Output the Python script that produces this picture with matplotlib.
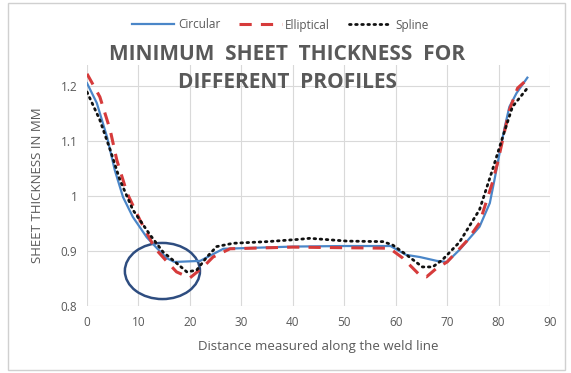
import matplotlib
matplotlib.use("Agg")
import matplotlib.pyplot as plt
from matplotlib.patches import Ellipse, Rectangle

circ_x = [0, 1.9, 3.9, 5.4, 7.0, 8.9, 11.6, 13.6, 15.5, 17, 22, 26.5, 30, 40, 50, 59, 62, 64.7, 68, 70, 72.4, 76.3, 78.3, 79.2, 80.2, 81.2, 82.1, 83.5, 85.6]
circ_y = [1.205, 1.169, 1.107, 1.047, 0.998, 0.962, 0.925, 0.905, 0.887, 0.880, 0.882, 0.904, 0.905, 0.908, 0.909, 0.909, 0.893, 0.889, 0.882, 0.880, 0.902, 0.944, 0.987, 1.029, 1.078, 1.125, 1.162, 1.187, 1.215]

ell_x = [0, 2.5, 4.5, 5.8, 7.8, 10.3, 13.2, 15.8, 17.4, 20, 22.6, 24.5, 27.8, 40, 58.8, 61.4, 64.7, 66, 68, 70, 73.8, 76.3, 78.8, 79.8, 80.8, 82.1, 83.7, 85]
ell_y = [1.222, 1.180, 1.120, 1.065, 1.005, 0.956, 0.905, 0.878, 0.862, 0.851, 0.871, 0.889, 0.904, 0.907, 0.905, 0.887, 0.856, 0.853, 0.869, 0.880, 0.918, 0.951, 1.024, 1.060, 1.102, 1.156, 1.196, 1.207]

spl_x = [0, 2.5, 4.5, 6.4, 8.9, 12.2, 14.8, 17.4, 19.4, 21.3, 23.3, 25.2, 28.4, 35, 41, 43.3, 50.5, 57.5, 59.4, 62.1, 65.2, 67.2, 69.1, 72.4, 76.3, 78.8, 80.8, 82.7, 85.6]
spl_y = [1.189, 1.138, 1.084, 1.029, 0.975, 0.930, 0.898, 0.878, 0.862, 0.865, 0.889, 0.908, 0.914, 0.917, 0.921, 0.923, 0.918, 0.917, 0.911, 0.893, 0.871, 0.871, 0.884, 0.916, 0.975, 1.047, 1.107, 1.162, 1.196]

xticks = [0, 10, 20, 30, 40, 50, 60, 70, 80, 90]
yticks = [0.8, 0.9, 1.0, 1.1, 1.2]
ytick_labels = ["0.8", "0.9", "1", "1.1", "1.2"]

plt.rcParams['font.family'] = ['Open Sans', 'DejaVu Sans']
fig = plt.figure(figsize=(5.71, 3.73), dpi=100)
fig.patches.append(Rectangle((8/571, 3/373), 557/571, 367/373, transform=fig.transFigure,
                             fill=False, edgecolor='#d0d0d0', lw=1))
ax = fig.add_axes([87/571, 1-306/373, (550-87)/571, (306-65)/373])
ax.set_xlim(0, 90)
ax.set_ylim(0.8, 1.238)
ax.set_xticks(xticks)
ax.set_yticks(yticks)
ax.set_yticklabels(ytick_labels)
ax.grid(True, color='#d9d9d9', lw=0.8)
ax.set_axisbelow(True)
for s in ax.spines.values():
    s.set_visible(False)
ax.tick_params(length=0, labelsize=8.5, labelcolor='#595959', pad=7)

ax.plot(circ_x, circ_y, color='#4a86c8', lw=1.6, label='Circular')
ax.plot(ell_x, ell_y, color='#d63b3b', lw=2.2, ls=(0, (4, 3)), label='Elliptical')
ax.plot(spl_x, spl_y, color='#111111', lw=2.0, ls=(0, (0.6, 1.6)), dash_capstyle='round', label='Spline')

ax.add_patch(Ellipse((14.66, 0.8636), 14.6, 0.102, fill=False, edgecolor='#2e4d80', lw=1.8))

ax.set_xlabel('Distance measured along the weld line', fontsize=9.5, color='#595959', labelpad=8)
ax.set_ylabel('SHEET THICKNESS IN MM', fontsize=9.5, color='#595959', labelpad=12)

fig.text(287/571, 1-55/373, 'MINIMUM  SHEET  THICKNESS  FOR', ha='center', va='center',
         fontsize=15, fontweight='bold', color='#595959')
fig.text(287/571, 1-83/373, 'DIFFERENT  PROFILES', ha='center', va='center',
         fontsize=15, fontweight='bold', color='#595959')

fig.legend(loc='center', bbox_to_anchor=(280/571, 1-25/373), ncol=3, frameon=False,
           fontsize=8.5, handlelength=3.6, columnspacing=1.6, handletextpad=0.3,
           labelcolor='#595959')

fig.savefig('out.png', dpi=100)
